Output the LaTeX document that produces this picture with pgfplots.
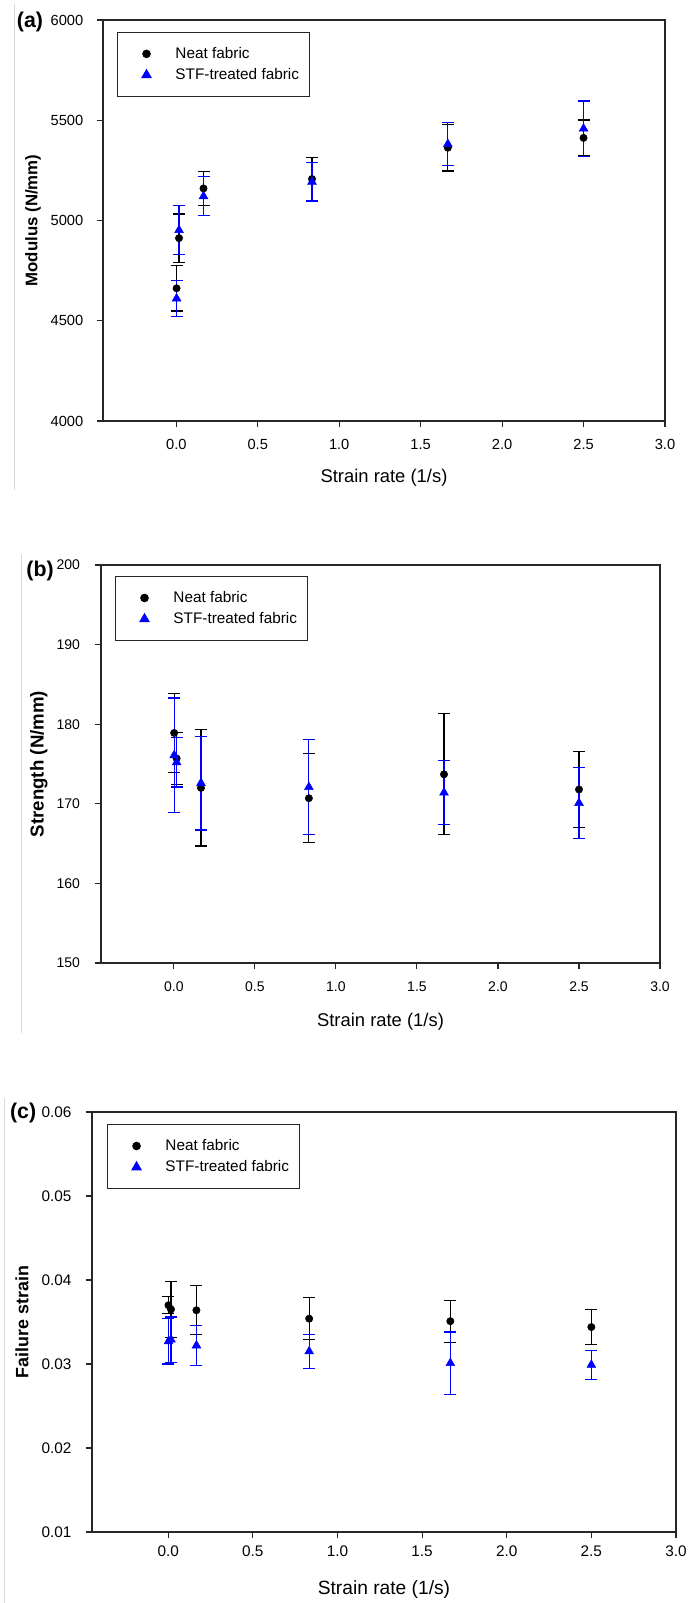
\documentclass[border=0pt]{standalone}
\usepackage{pgfplots}
\pgfplotsset{compat=1.18}
\usepackage{pgfplotstable}
\usepackage{fontspec}
\setmainfont{Liberation Sans}

\pgfplotstableread{
x y ey
0.00167 4662 113
0.0167 4912 120
0.167 5160 85
0.833 5207 108
1.667 5363 116
2.5 5412 89
}\aneat
\pgfplotstableread{
x y ey
0.00167 4611 88
0.0167 4952 121
0.167 5121 98
0.833 5193 96
1.667 5381 108
2.5 5458 138
}\astf
\pgfplotstableread{
x y ey
0.00167 178.9 5.0
0.0167 175.7 3.3
0.167 172.0 7.3
0.833 170.7 5.6
1.667 173.7 7.6
2.5 171.8 4.8
}\bneat
\pgfplotstableread{
x y ey
0.00167 176.1 7.2
0.0167 175.2 3.1
0.167 172.6 5.9
0.833 172.1 6.0
1.667 171.4 4.0
2.5 170.1 4.5
}\bstf
\pgfplotstableread{
x y ey
0.00167 0.0370 0.0010
0.0167 0.0365 0.0033
0.167 0.0364 0.0029
0.833 0.0354 0.0025
1.667 0.0351 0.0025
2.5 0.0344 0.0021
}\cneat
\pgfplotstableread{
x y ey
0.00167 0.0327 0.0027
0.0167 0.0329 0.0027
0.167 0.0322 0.0024
0.833 0.0315 0.0020
1.667 0.0301 0.0037
2.5 0.0299 0.0017
}\cstf

\pgfplotsset{
  panel/.style={
    scale only axis, clip=false,
    axis line style={line width=0.8pt, black!85},
    xmin=-0.45, xmax=3.0,
    xtick={0,0.5,1,1.5,2,2.5,3},
    xticklabels={0.0,0.5,1.0,1.5,2.0,2.5,3.0},
    tick pos=left,
    tick align=outside,
    major tick length=4.5pt,
    tick style={line width=0.8pt, black!85},
    scaled y ticks=false,
    legend cell align=left,
    legend style={anchor=north west, draw=black!85, line width=0.9pt, fill=white,
      inner xsep=6pt, inner ysep=9pt, row sep=2pt,
      font=\fontsize{11.5}{13}\selectfont,
      nodes={inner xsep=2pt, inner ysep=2pt}},
  },
  neat/.style={only marks, mark=*, black, mark size=2.75pt,
    mark options={fill=black, draw=black},
    error bars/.cd, y dir=both, y explicit,
    error bar style={line width=0.9pt, black},
    error mark options={rotate=90, mark size=4.5pt, line width=0.9pt, black}},
  stf/.style={only marks, mark=triangle*, blue, mark size=3.8pt,
    mark options={fill=blue, draw=blue},
    error bars/.cd, y dir=both, y explicit,
    error bar style={line width=0.9pt, blue},
    error mark options={rotate=90, mark size=4.5pt, line width=0.9pt, blue}},
}

\begin{document}
\begin{tikzpicture}
\useasboundingbox (0,0) rectangle (516.75pt,-1202.25pt);
\draw[black!15, line width=0.75pt] (11pt,-3pt) -- (11pt,-367.5pt);
\draw[black!15, line width=0.75pt] (15.75pt,-415.5pt) -- (15.75pt,-774.75pt);
\draw[black!15, line width=0.75pt] (3pt,-823.5pt) -- (3pt,-1202.25pt);

% (a)
\begin{axis}[panel,
  at={(77.25pt,-15pt)}, anchor=north west,
  width=421.5pt, height=300.75pt,
  ymin=4000, ymax=6000, ytick={4000,4500,5000,5500,6000},
  yticklabels={4000,4500,5000,5500,6000},
  xticklabel style={font=\fontsize{11}{13}\selectfont, yshift=-6pt},
  yticklabel style={font=\fontsize{11}{13}\selectfont, xshift=-6.75pt},
  xlabel={Strain rate (1/s)}, ylabel={\bfseries Modulus (N/mm)},
  xlabel style={at={(axis description cs:0.5,-0.142)}, anchor=center, font=\fontsize{13.8}{16}\selectfont},
  ylabel style={at={(axis description cs:-0.1246,0.5)}, anchor=center, font=\fontsize{12.6}{15}\selectfont},
  legend style={at={(0.0249,0.970)}},
  legend image code/.code={\path (0pt,0pt) (34.5pt,0pt); \draw[#1] plot coordinates {(15.25pt,0pt)};},
]
\addplot[neat] table[x=x, y=y, y error=ey] {\aneat};
\addlegendentry{Neat fabric}
\addplot[stf] table[x=x, y=y, y error=ey] {\astf};
\addlegendentry{STF-treated fabric}
\node[font={\fontsize{16}{18}\selectfont\bfseries}] at (axis description cs:-0.130,0.995) {(a)};
\end{axis}

% (b)
\begin{axis}[panel,
  at={(75.75pt,-423.75pt)}, anchor=north west,
  width=419.25pt, height=298.5pt,
  ymin=150, ymax=200, ytick={150,160,170,180,190,200},
  yticklabels={150,160,170,180,190,200},
  xticklabel style={font=\fontsize{10.5}{13}\selectfont, yshift=-6pt},
  yticklabel style={font=\fontsize{10.5}{13}\selectfont, xshift=-7.7pt},
  xlabel={Strain rate (1/s)}, ylabel={\bfseries Strength (N/mm)},
  xlabel style={at={(axis description cs:0.5,-0.147)}, anchor=center, font=\fontsize{13.8}{16}\selectfont},
  ylabel style={at={(axis description cs:-0.111,0.5)}, anchor=center, font=\fontsize{14}{16}\selectfont},
  legend style={at={(0.025,0.972)}},
  legend image code/.code={\path (0pt,0pt) (34.5pt,0pt); \draw[#1] plot coordinates {(15.25pt,0pt)};},
]
\addplot[neat] table[x=x, y=y, y error=ey] {\bneat};
\addlegendentry{Neat fabric}
\addplot[stf] table[x=x, y=y, y error=ey] {\bstf};
\addlegendentry{STF-treated fabric}
\node[font={\fontsize{16}{18}\selectfont\bfseries}] at (axis description cs:-0.109,0.985) {(b)};
\end{axis}

% (c)
\begin{axis}[panel,
  at={(69pt,-834pt)}, anchor=north west,
  width=438pt, height=315pt,
  ymin=0.01, ymax=0.06, ytick={0.01,0.02,0.03,0.04,0.05,0.06},
  yticklabels={0.01,0.02,0.03,0.04,0.05,0.06},
  xticklabel style={font=\fontsize{11.5}{13}\selectfont, yshift=-2.5pt},
  yticklabel style={font=\fontsize{11.5}{13}\selectfont, xshift=-7.4pt},
  xlabel={Strain rate (1/s)}, ylabel={\bfseries Failure strain},
  xlabel style={at={(axis description cs:0.5,-0.136)}, anchor=center, font=\fontsize{14.4}{17}\selectfont},
  ylabel style={at={(axis description cs:-0.12,0.5)}, anchor=center, font=\fontsize{13.4}{16}\selectfont},
  legend style={at={(0.0257,0.971)}},
  legend image code/.code={\path (0pt,0pt) (34.5pt,0pt); \draw[#1] plot coordinates {(15.25pt,0pt)};},
]
\addplot[neat] table[x=x, y=y, y error=ey] {\cneat};
\addlegendentry{Neat fabric}
\addplot[stf] table[x=x, y=y, y error=ey] {\cstf};
\addlegendentry{STF-treated fabric}
\node[font={\fontsize{16}{18}\selectfont\bfseries}] at (axis description cs:-0.118,0.998) {(c)};
\end{axis}
\end{tikzpicture}
\end{document}
